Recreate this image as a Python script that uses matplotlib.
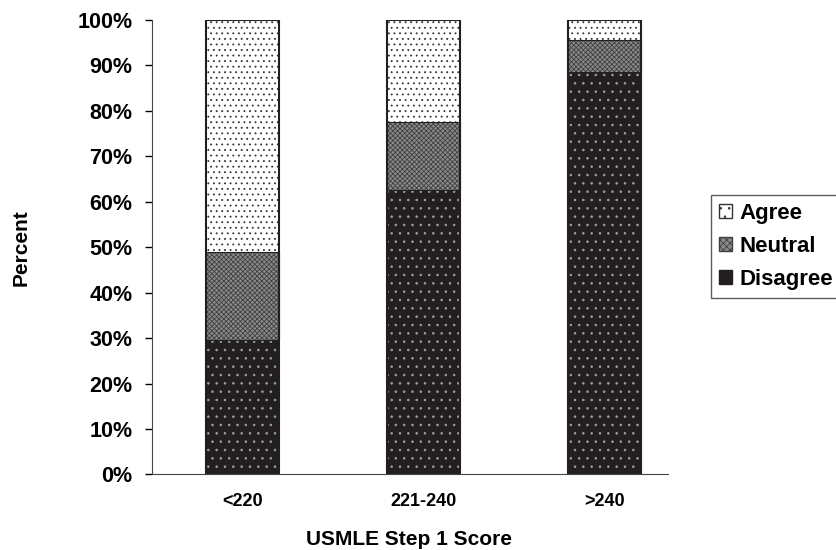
import numpy as np
import matplotlib.pyplot as plt
from matplotlib.patches import Patch

plt.rcParams['font.family'] = ['Liberation Sans', 'DejaVu Sans']
plt.rcParams['font.weight'] = 'bold'
plt.rcParams['axes.labelweight'] = 'bold'
plt.rcParams['hatch.linewidth'] = 0.6

# data (percent)
groups = ['<220', '221-240', '>240']
disagree = [29.5, 62.5, 88.5]
neutral = [19.5, 15.0, 7.0]
agree = [100 - d - n for d, n in zip(disagree, neutral)]

fig = plt.figure(figsize=(8.37, 5.5), dpi=100)
ax = fig.add_axes([0.1813, 0.1373, 0.6167, 0.8264])

x = np.arange(len(groups))
w = 0.40
dark = '#231f20'
grey = '#8a8a8a'

# Disagree: dark with faint white dots
ax.bar(x, disagree, w, color=dark, edgecolor='#a0a0a0', hatch='..', linewidth=0)
# Neutral: grey speckled
ax.bar(x, neutral, w, bottom=disagree, color=grey, edgecolor='#404040',
       hatch='xxxxxxx', linewidth=0)
# Agree: white with dark dots
bot = [d + n for d, n in zip(disagree, neutral)]
ax.bar(x, agree, w, bottom=bot, color='white', edgecolor='#333333',
       hatch='...', linewidth=0)

# outlines
ax.bar(x, [100] * 3, w, fill=False, edgecolor=dark, linewidth=1.5)
ax.bar(x, neutral, w, bottom=disagree, fill=False, edgecolor=dark, linewidth=0.8)

ax.set_ylim(0, 100)
ax.set_xlim(-0.5, 2.35)
ax.set_yticks(np.arange(0, 101, 10))
ax.set_yticklabels([f'{v}%' for v in range(0, 101, 10)], fontsize=15.5)
ax.set_xticks(x)
ax.set_xticklabels(groups, fontsize=13)
ax.tick_params(axis='y', length=5, width=1, pad=9)
ax.tick_params(axis='x', length=0, pad=13)

for s in ['top', 'right']:
    ax.spines[s].set_visible(False)
ax.spines['left'].set_color('#444444')
ax.spines['bottom'].set_color('#444444')

ax.set_ylabel('Percent', fontsize=15, va='center')
ax.yaxis.set_label_coords(-0.253, 0.5)
ax.set_xlabel('USMLE Step 1 Score', fontsize=15, va='center')
ax.xaxis.set_label_coords(0.498, -0.144)

handles = [
    Patch(facecolor='white', edgecolor='#333333', hatch='..', label='Agree'),
    Patch(facecolor=grey, edgecolor='#404040', hatch='xxxxx', label='Neutral'),
    Patch(facecolor=dark, edgecolor=dark, label='Disagree'),
]
leg = fig.legend(handles=handles, loc='upper left',
                 bbox_to_anchor=(711 / 837, 1 - 195 / 550),
                 fontsize=16, frameon=True, fancybox=False,
                 handlelength=0.6, handleheight=0.6, handletextpad=0.35,
                 labelspacing=0.55, borderpad=0.35, borderaxespad=0)
leg.get_frame().set_edgecolor('#333333')
leg.get_frame().set_linewidth(1.0)

fig.savefig('out.png', dpi=100)
